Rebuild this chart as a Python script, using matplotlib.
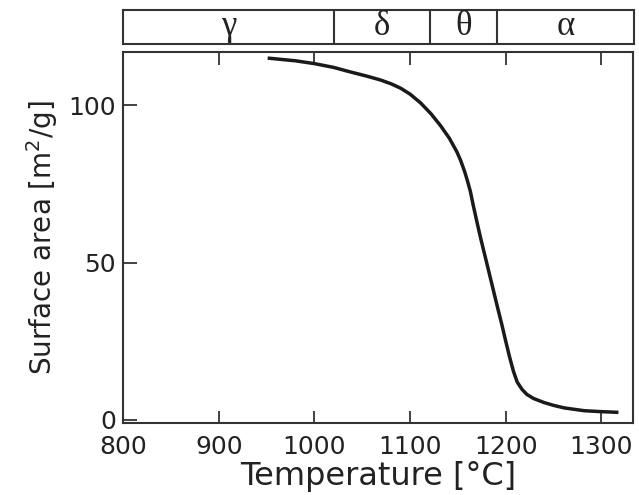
import matplotlib
matplotlib.use("Agg")
import matplotlib.pyplot as plt

# surface area vs calcination temperature
temp = [953, 980, 1000, 1020, 1037, 1055, 1069, 1080, 1090, 1100, 1111, 1122,
        1132, 1141, 1149, 1153, 1157, 1160, 1163, 1166, 1170, 1174, 1179, 1183,
        1187, 1191, 1196, 1200, 1204, 1208, 1212, 1217, 1222, 1229, 1240, 1250,
        1261, 1282, 1300, 1316]
area = [115.0, 114.2, 113.3, 112.1, 110.7, 109.3, 108.1, 106.9, 105.5, 103.6,
        100.8, 97.3, 93.5, 89.6, 85.2, 82.4, 79.0, 76.0, 72.7, 68.3, 62.8, 57.5,
        51.3, 46.3, 41.3, 36.3, 30.2, 25.0, 20.0, 15.5, 12.0, 9.7, 8.1, 6.8, 5.5,
        4.6, 3.8, 2.9, 2.6, 2.4]

# alumina phases along the temperature axis
phases = ["γ", "δ", "θ", "α"]
phase_edges = [800, 1020, 1120, 1190, 1333]

xticks = [800, 900, 1000, 1100, 1200, 1300]
yticks = [0, 50, 100]

plt.rcParams["mathtext.default"] = "regular"

fig = plt.figure(figsize=(6.39, 4.95), dpi=100)
ax = fig.add_axes([0.1925, 0.1455, 0.7981, 0.7495])
band = fig.add_axes([0.1925, 0.911, 0.7997, 0.069])

ax.plot(temp, area, color="#1a1a1a", lw=2.5, solid_joinstyle="round")
ax.set_xlim(800, 1333)
ax.set_ylim(-1, 117)
ax.set_xticks(xticks)
ax.set_yticks(yticks)
ax.tick_params(axis="x", direction="in", length=9, width=1.2, top=True,
               labelsize=18, pad=9, colors="#222222")
ax.tick_params(axis="y", direction="in", length=10, width=1.2,
               labelsize=18, pad=5, colors="#222222")
for s in ax.spines.values():
    s.set_linewidth(1.5)
    s.set_color("#333333")
ax.set_xlabel("Temperature [°C]", fontsize=23, color="#222222", labelpad=1)
ax.set_ylabel("Surface area [m$^2$/g]", fontsize=20, color="#222222", labelpad=6)

band.set_xlim(phase_edges[0], phase_edges[-1])
band.set_ylim(0, 1)
band.set_xticks([])
band.set_yticks([])
for s in band.spines.values():
    s.set_linewidth(1.5)
    s.set_color("#333333")
for e in phase_edges[1:-1]:
    band.axvline(e, color="#333333", lw=1.5)
for name, a, b in zip(phases, phase_edges[:-1], phase_edges[1:]):
    band.text((a + b) / 2, 0.5, name, ha="center", va="center", fontsize=25,
              family="Liberation Serif", color="#222222")

fig.savefig("out.png", dpi=100)
